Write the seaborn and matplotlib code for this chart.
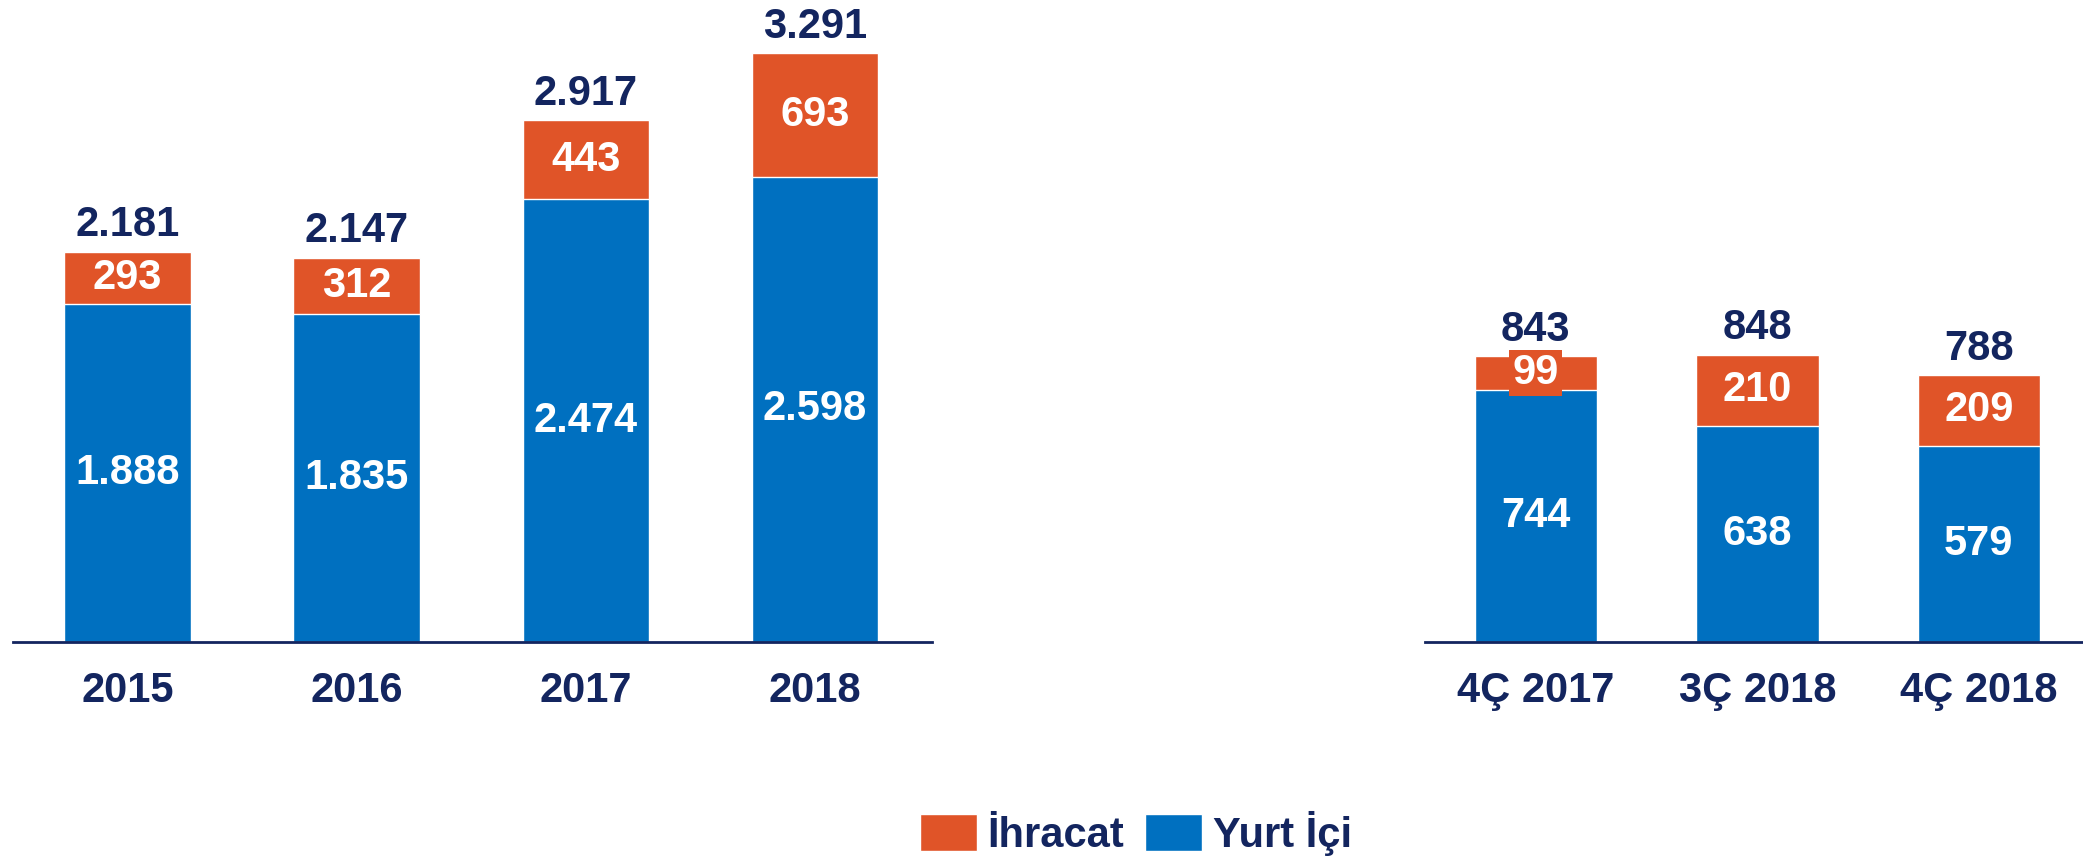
import matplotlib
matplotlib.use('Agg')
import matplotlib.pyplot as plt
import seaborn as sns
from matplotlib.patches import Patch

# yearly data
years = ['2015', '2016', '2017', '2018']
yearly_domestic = [1888, 1835, 2474, 2598]
yearly_export = [293, 312, 443, 693]
yearly_total = [2181, 2147, 2917, 3291]

# quarterly data
quarters = ['4Ç 2017', '3Ç 2018', '4Ç 2018']
q_domestic = [744, 638, 579]
q_export = [99, 210, 209]
q_total = [843, 848, 788]

legend_labels = ['İhracat', 'Yurt İçi']

ORANGE = '#E05428'
BLUE = '#0070C0'
NAVY = '#13255F'

sns.set_style('white')
plt.rcParams['font.family'] = ['Liberation Sans', 'DejaVu Sans']
plt.rcParams['font.weight'] = 'bold'

FS = 30


def fmt(v):
    return f"{v:,}".replace(",", ".")


def draw_panel(ax, cats, domestic, export, total, ymax, xlim):
    sns.barplot(x=cats, y=total, color=ORANGE, saturation=1, width=0.553, ax=ax)
    sns.barplot(x=cats, y=domestic, color=BLUE, saturation=1, width=0.553, ax=ax)
    for i in range(len(cats)):
        ax.text(i, domestic[i] / 2, fmt(domestic[i]), ha='center', va='center',
                color='white', fontsize=FS, fontweight='bold')
        ax.text(i, domestic[i] + export[i] / 2, fmt(export[i]), ha='center', va='center',
                color='white', fontsize=FS, fontweight='bold',
                bbox=dict(facecolor=ORANGE, edgecolor='none', pad=2.5))
        ax.annotate(fmt(total[i]), (i, total[i]), xytext=(0, 4.5), textcoords='offset points',
                    ha='center', va='bottom', color=NAVY, fontsize=FS, fontweight='bold')
    ax.set_ylim(0, ymax)
    ax.set_xlim(*xlim)
    ax.set_yticks([])
    ax.set_ylabel('')
    for s in ['top', 'right', 'left']:
        ax.spines[s].set_visible(False)
    ax.spines['bottom'].set_color(NAVY)
    ax.spines['bottom'].set_linewidth(2)
    ax.tick_params(axis='x', length=0, pad=21, labelsize=FS, labelcolor=NAVY)
    for lbl in ax.get_xticklabels():
        lbl.set_fontweight('bold')


W, H = 2083, 857
fig = plt.figure(figsize=(W / 100, H / 100), dpi=100)
base = (H - 642) / H

ax1 = fig.add_axes([13 / W, base, (932 - 13) / W, 642 / H])
draw_panel(ax1, years, yearly_domestic, yearly_export, yearly_total, 642 / 0.179, (-0.5, 3.51))

ax2 = fig.add_axes([1425 / W, base, (2083 - 1425) / W, 642 / H])
draw_panel(ax2, quarters, q_domestic, q_export, q_total, 642 / 0.339, (-0.5, 2.47))

handles = [Patch(facecolor=ORANGE, label=legend_labels[0]),
           Patch(facecolor=BLUE, label=legend_labels[1])]
leg = fig.legend(handles=handles, loc='center', bbox_to_anchor=(1136 / W, 24 / H), ncol=2,
                 frameon=False, fontsize=FS, handlelength=1.37, handleheight=1.0,
                 handletextpad=0.26, columnspacing=0.5, borderpad=0)
for t in leg.get_texts():
    t.set_color(NAVY)
    t.set_fontweight('bold')

fig.savefig('out.png', dpi=100)
